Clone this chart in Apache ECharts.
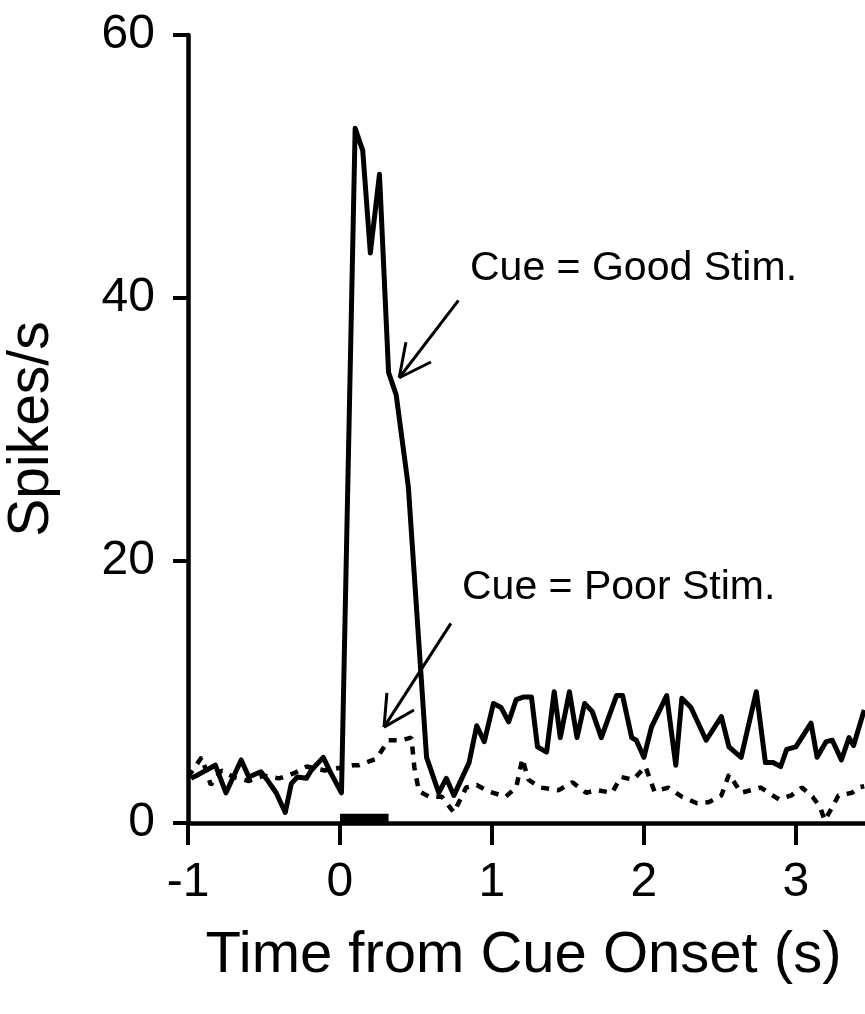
<!DOCTYPE html>
<html>
<head>
<meta charset="utf-8">
<script src="https://cdn.jsdelivr.net/npm/echarts@6/dist/echarts.min.js"></script>
<style>html,body{margin:0;padding:0;background:#fff}#c{width:865px;height:1014px}</style>
</head>
<body>
<div id="c"></div>
<script>
// Time (s) and firing rate (spikes/s)
const goodStim = [[-0.98,3.4],[-0.93,3.7],[-0.82,4.4],[-0.75,2.3],[-0.65,4.8],[-0.60,3.5],[-0.52,3.9],[-0.48,3.3],[-0.42,2.3],[-0.36,0.8],[-0.32,3.0],[-0.28,3.5],[-0.22,3.4],[-0.19,4.0],[-0.11,5.0],[-0.06,3.8],[0.01,2.3],[0.10,52.9],[0.15,51.2],[0.20,43.4],[0.26,49.4],[0.32,34.3],[0.37,32.6],[0.45,25.6],[0.57,5.0],[0.65,2.3],[0.70,3.4],[0.75,2.1],[0.85,4.6],[0.90,7.4],[0.95,6.2],[1.01,9.1],[1.06,8.8],[1.11,7.7],[1.16,9.4],[1.21,9.6],[1.26,9.6],[1.30,5.8],[1.36,5.4],[1.41,10.0],[1.45,6.5],[1.51,10.0],[1.56,6.5],[1.61,9.1],[1.66,8.5],[1.72,6.5],[1.82,9.7],[1.86,9.7],[1.92,6.5],[1.95,6.3],[2.00,5.0],[2.05,7.3],[2.15,9.7],[2.21,4.4],[2.25,9.5],[2.31,8.8],[2.41,6.3],[2.51,8.1],[2.56,5.8],[2.64,5.0],[2.74,10.0],[2.80,4.6],[2.85,4.6],[2.90,4.3],[2.94,5.6],[3.00,5.8],[3.10,7.6],[3.14,5.0],[3.20,6.2],[3.24,6.3],[3.30,4.8],[3.35,6.5],[3.38,5.9],[3.45,8.6]];
const poorStim = [[-1.0,3.5],[-0.91,5.0],[-0.85,2.9],[-0.78,4.0],[-0.70,3.5],[-0.60,3.2],[-0.50,3.6],[-0.40,3.4],[-0.30,3.8],[-0.22,4.3],[-0.10,4.0],[0.0,4.2],[0.09,4.4],[0.125,4.4],[0.24,4.9],[0.32,6.3],[0.40,6.3],[0.47,6.5],[0.49,4.2],[0.52,2.4],[0.59,2.0],[0.67,2.0],[0.75,0.8],[0.83,2.7],[0.90,2.9],[0.98,2.4],[1.09,2.0],[1.16,2.7],[1.20,4.9],[1.24,3.3],[1.32,2.7],[1.44,2.5],[1.53,3.1],[1.62,2.3],[1.69,2.5],[1.79,2.3],[1.85,3.5],[1.93,3.3],[2.01,4.3],[2.07,2.4],[2.16,2.7],[2.25,2.0],[2.35,1.5],[2.43,1.6],[2.51,2.1],[2.56,3.7],[2.64,2.3],[2.77,2.7],[2.82,2.3],[2.89,1.8],[2.97,2.1],[3.04,2.7],[3.11,2.0],[3.16,1.2],[3.19,0.2],[3.24,1.2],[3.28,2.1],[3.37,2.3],[3.41,2.7],[3.45,2.8]];
// Cue presentation period (s) and its marker height
const cueBar = [[0,0.7],[0.32,0.7]];
const xTicks = [-1, 0, 1, 2, 3];
const yTicks = [0, 20, 40, 60];
// Annotation arrows in data coordinates: [tail, tip, barb1, barb2]
const goodArrow = [[0.78,39.8],[0.39,33.9],[0.434,36.6],[0.599,35.1]];
const poorArrow = [[0.73,15.2],[0.29,7.3],[0.309,9.9],[0.487,8.6]];
const labels = ['Cue = Good Stim.', 'Cue = Poor Stim.'];

function arrowLines(a){
  return [
    [{coord:a[0]},{coord:a[1]}],
    [{coord:a[1]},{coord:a[2]}],
    [{coord:a[1]},{coord:a[3]}]
  ];
}

const FONT = "'Liberation Sans', Arial, Helvetica, sans-serif";
const chart = echarts.init(document.getElementById('c'), null, {renderer:'canvas'});
chart.setOption({
  animation: false,
  backgroundColor: '#fff',
  grid: {left: 188, top: 35, right: -22, bottom: 191, containLabel: false, outerBoundsMode: 'none'},
  xAxis: {
    type: 'value', min: -1, max: 3.6, interval: 1,
    axisLine: {onZero: false, lineStyle: {color: '#000', width: 4.5}},
    axisTick: {length: 22, lineStyle: {color: '#000', width: 4}},
    axisLabel: {margin: 36, fontSize: 48, color: '#000', fontFamily: FONT,
      formatter: v => xTicks.includes(v) ? String(v) : ''},
    splitLine: {show: false},
    name: 'Time from Cue Onset (s)', nameLocation: 'middle', nameGap: 104,
    nameTextStyle: {fontSize: 58, color: '#000', fontFamily: FONT, padding: [0, 28, 0, 0]}
  },
  yAxis: {
    type: 'value', min: 0, max: 60, interval: 20,
    axisLine: {show: true, onZero: false, lineStyle: {color: '#000', width: 4.5}},
    axisTick: {show: true, length: 15, lineStyle: {color: '#000', width: 4}},
    axisLabel: {margin: 33, fontSize: 48, color: '#000', fontFamily: FONT,
      formatter: v => yTicks.includes(v) ? String(v) : ''},
    splitLine: {show: false},
    name: 'Spikes/s', nameLocation: 'middle', nameGap: 127,
    nameTextStyle: {fontSize: 57, color: '#000', fontFamily: FONT}
  },
  series: [
    {
      name: 'Cue = Poor Stim.', type: 'line', data: poorStim, showSymbol: false,
      lineStyle: {color: '#000', width: 4.5, type: [8, 8]}, z: 2
    },
    {
      name: 'Cue = Good Stim.', type: 'line', data: goodStim, showSymbol: false,
      lineStyle: {color: '#000', width: 5, join: 'round'}, z: 3,
      markLine: {
        silent: true, symbol: ['none','none'], animation: false,
        label: {show: false},
        lineStyle: {color: '#000', width: 3, type: 'solid'},
        emphasis: {disabled: true},
        data: arrowLines(goodArrow).concat(arrowLines(poorArrow))
      }
    },
    {
      name: 'Cue period', type: 'line', data: cueBar, showSymbol: false,
      lineStyle: {color: '#000', width: 0}, areaStyle: {color: '#000', opacity: 1}, z: 4
    }
  ],
  graphic: [
    {type: 'text', left: 470, top: 248, style: {text: labels[0], font: '41px ' + FONT, fill: '#000'}},
    {type: 'text', left: 462, top: 567, style: {text: labels[1], font: '41px ' + FONT, fill: '#000'}}
  ]
});
</script>
</body>
</html>
